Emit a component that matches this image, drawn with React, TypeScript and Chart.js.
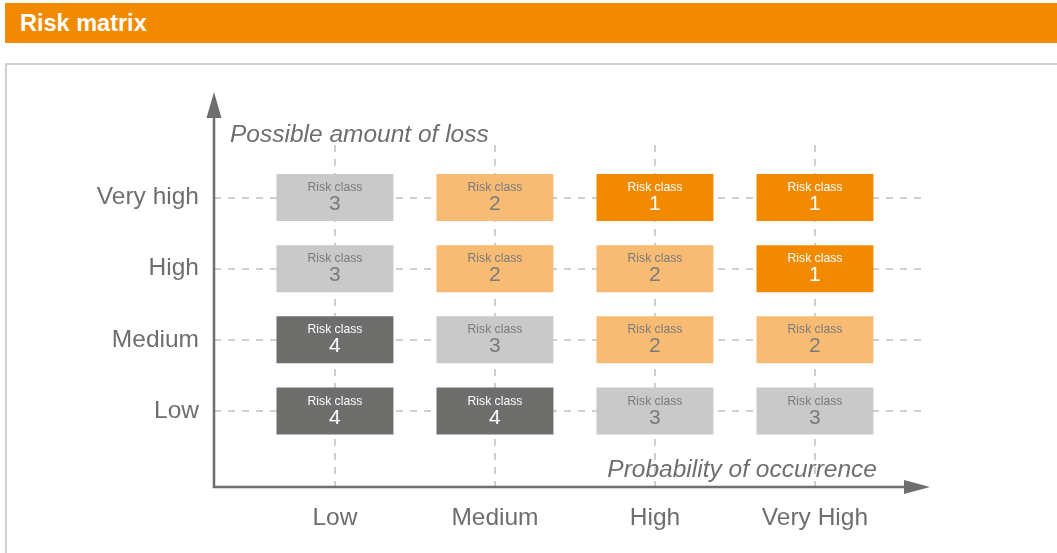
import React, { useEffect, useRef } from 'react';
import { Chart, registerables } from 'chart.js';

Chart.register(...registerables);

// ---- data ----
const probabilityLabels = ['Low', 'Medium', 'High', 'Very High'];
const lossLabels = ['Low', 'Medium', 'High', 'Very high'];
// risk class per probability column, one array per loss level
const riskLowLoss = [4, 4, 3, 3];
const riskMediumLoss = [4, 3, 2, 2];
const riskHighLoss = [3, 2, 2, 1];
const riskVeryHighLoss = [3, 2, 1, 1];
const riskRows = [riskLowLoss, riskMediumLoss, riskHighLoss, riskVeryHighLoss];
const cellCaption = 'Risk class';
const yTitle = 'Possible amount of loss';
const xTitle = 'Probability of occurrence';
const headerTitle = 'Risk matrix';

// ---- styles ----
const FONT = '"Liberation Sans", Arial, Helvetica, sans-serif';
const classFill: Record<number, string> = { 1: '#F28A00', 2: '#F8BB74', 3: '#C9C9C9', 4: '#6E6E6D' };
const classText: Record<number, string> = { 1: '#FFFFFF', 2: '#7A7A7A', 3: '#7A7A7A', 4: '#FFFFFF' };
const AXIS = '#6E6E6E';
const HALF = 0.33;

const matrixPlugin = {
  id: 'matrixDecor',
  afterDatasetsDraw(chart: any) {
    const ctx = chart.ctx;
    chart.data.datasets.forEach((_ds: any, di: number) => {
      const meta = chart.getDatasetMeta(di);
      meta.data.forEach((el: any, i: number) => {
        const cls = riskRows[di][i];
        const cx = el.x;
        const cy = (el.y + el.base) / 2;
        ctx.save();
        ctx.fillStyle = classText[cls];
        ctx.textAlign = 'center';
        ctx.textBaseline = 'alphabetic';
        ctx.font = `12.2px ${FONT}`;
        ctx.fillText(cellCaption, cx, cy - 6.5);
        ctx.font = `21px ${FONT}`;
        ctx.fillText(String(cls), cx, cy + 12.5);
        ctx.restore();
      });
    });
  },
  afterDraw(chart: any) {
    const ctx = chart.ctx;
    const { left, right, top, bottom } = chart.chartArea;
    ctx.save();
    ctx.strokeStyle = AXIS;
    ctx.fillStyle = AXIS;
    ctx.lineWidth = 2.5;
    ctx.lineJoin = 'miter';
    ctx.beginPath();
    ctx.moveTo(left, top - 28);
    ctx.lineTo(left, bottom);
    ctx.lineTo(right - 22, bottom);
    ctx.stroke();
    // up arrow
    ctx.beginPath();
    ctx.moveTo(left, top - 53);
    ctx.lineTo(left - 7.5, top - 27);
    ctx.lineTo(left + 7.5, top - 27);
    ctx.closePath();
    ctx.fill();
    // right arrow
    ctx.beginPath();
    ctx.moveTo(right + 4, bottom);
    ctx.lineTo(right - 22, bottom - 7);
    ctx.lineTo(right - 22, bottom + 7);
    ctx.closePath();
    ctx.fill();
    // titles
    ctx.font = `italic 24.5px ${FONT}`;
    ctx.textBaseline = 'alphabetic';
    ctx.textAlign = 'left';
    ctx.fillText(yTitle, left + 16, top - 3.5);
    ctx.textAlign = 'right';
    ctx.fillText(xTitle, right - 49, bottom - 10);
    ctx.restore();
  },
};

export default function App() {
  const canvasRef = useRef<HTMLCanvasElement | null>(null);

  useEffect(() => {
    if (!canvasRef.current) return;
    const datasets = riskRows.map((row, r) => ({
      label: lossLabels[r],
      data: row.map((_cls, c) => ({ x: c, y: [r - HALF, r + HALF] })),
      backgroundColor: row.map((cls) => classFill[cls]),
      borderWidth: 0,
      grouped: false,
      categoryPercentage: 1,
      barPercentage: 0.731,
    }));

    const tickAxis = (labels: string[]) => ({
      type: 'linear' as const,
      offset: false,
      afterBuildTicks: (axis: any) => {
        axis.ticks = labels.map((_l, i) => ({ value: i }));
      },
      grid: { color: '#CFCFCF', lineWidth: 2, drawTicks: false, offset: false },
      border: { display: false, dash: [7, 7] },
    });

    const chart = new Chart(canvasRef.current, {
      type: 'bar',
      data: { datasets: datasets as any },
      plugins: [matrixPlugin],
      options: {
        responsive: false,
        animation: false,
        devicePixelRatio: 1,
        layout: { padding: { left: 94, right: 131, top: 145, bottom: 16 } },
        plugins: {
          legend: { display: false },
          tooltip: { enabled: false },
        },
        scales: {
          x: {
            ...tickAxis(probabilityLabels),
            min: -0.756,
            max: 3.694,
            afterFit: (s: any) => {
              s.height = 50;
            },
            ticks: {
              padding: 17,
              color: AXIS,
              font: { family: FONT, size: 24.5 },
              callback: (v: any) => probabilityLabels[v] ?? '',
            },
          },
          y: {
            ...tickAxis(lossLabels),
            min: -1.068,
            max: 3.738,
            afterFit: (s: any) => {
              s.width = 120;
            },
            ticks: {
              padding: 15,
              color: AXIS,
              font: { family: FONT, size: 24.5 },
              callback: (v: any) => lossLabels[v] ?? '',
            },
          },
        },
      } as any,
    });
    return () => chart.destroy();
  }, []);

  return (
    <div
      style={{
        position: 'absolute',
        left: 0,
        top: 0,
        width: 1057,
        height: 553,
        overflow: 'hidden',
        background: '#fff',
      }}
    >
      <div
        style={{
          position: 'absolute',
          left: 5,
          top: 3,
          width: 1060,
          height: 40,
          background: '#F28A00',
          color: '#fff',
          fontFamily: FONT,
          fontWeight: 'bold',
          fontSize: 23.5,
          lineHeight: '40px',
          paddingLeft: 15,
          boxSizing: 'border-box',
        }}
      >
        {headerTitle}
      </div>
      <div
        style={{
          position: 'absolute',
          left: 5,
          top: 63,
          width: 1100,
          height: 600,
          border: '2px solid #D0D0D0',
          boxSizing: 'border-box',
        }}
      />
      <canvas
        ref={canvasRef}
        width={1057}
        height={553}
        style={{ position: 'absolute', left: 0, top: 0, width: 1057, height: 553 }}
      />
    </div>
  );
}
